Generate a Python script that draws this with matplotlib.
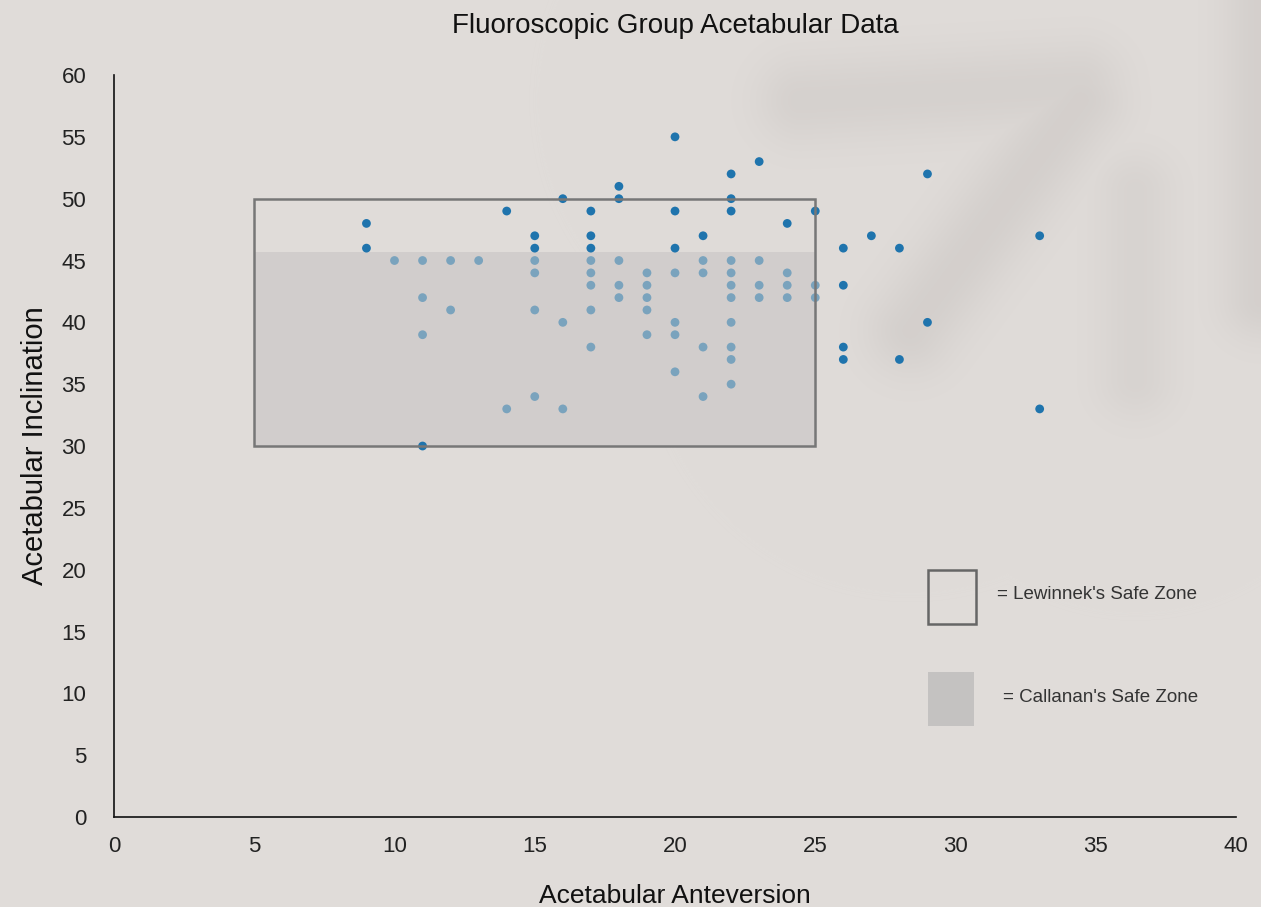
import numpy as np
import matplotlib.pyplot as plt
from matplotlib.patches import Rectangle

# anteversion (x) and inclination (y) of each hip
anteversion = [9, 9,
               10,
               11, 11, 11, 11,
               12, 12,
               13,
               14, 14,
               15, 15, 15, 15, 15, 15,
               16, 16, 16,
               17, 17, 17, 17, 17, 17, 17, 17,
               18, 18, 18, 18, 18,
               19, 19, 19, 19, 19,
               20, 20, 20, 20, 20, 20, 20,
               21, 21, 21, 21, 21,
               22, 22, 22, 22, 22, 22, 22, 22, 22, 22, 22,
               23, 23, 23, 23,
               24, 24, 24, 24,
               25, 25, 25,
               26, 26, 26, 26,
               27,
               28, 28,
               29, 29,
               33, 33]
inclination = [48, 46,
               45,
               45, 42, 39, 30,
               45, 41,
               45,
               49, 33,
               47, 46, 45, 44, 41, 34,
               50, 40, 33,
               49, 47, 46, 45, 44, 43, 41, 38,
               51, 50, 45, 43, 42,
               44, 43, 42, 41, 39,
               55, 49, 46, 44, 40, 39, 36,
               47, 45, 44, 38, 34,
               52, 50, 49, 45, 44, 43, 42, 40, 38, 37, 35,
               53, 45, 43, 42,
               48, 44, 43, 42,
               49, 43, 42,
               46, 43, 38, 37,
               47,
               46, 37,
               52, 40,
               47, 33]

lewinnek = (5, 25, 30, 50)     # x0, x1, y0, y1
callanan = (5, 25, 30, 45.7)

bg = '#e0dcd9'
plt.rcParams['font.family'] = ['Liberation Sans', 'DejaVu Sans']

W, H = 1261, 907
fig = plt.figure(figsize=(W / 100, H / 100), dpi=100, facecolor=bg)

# soft leaf shadow in the top right corner of the background
def seg_dist(px, py, x0, y0, x1, y1):
    dx, dy = x1 - x0, y1 - y0
    t = np.clip(((px - x0) * dx + (py - y0) * dy) / (dx * dx + dy * dy), 0, 1)
    return np.hypot(px - (x0 + t * dx), py - (y0 + t * dy))

yy, xx = np.mgrid[0:H, 0:W]
shade = np.zeros((H, W))
for (x0, y0, x1, y1, w, a) in [(800, 100, 1080, 85, 45, 0.35),
                               (1080, 100, 910, 330, 45, 0.4),
                               (1135, 190, 1135, 380, 40, 0.28),
                               (1261, 0, 1261, 300, 40, 0.4)]:
    shade = np.maximum(shade, a * np.exp(-(seg_dist(xx, yy, x0, y0, x1, y1) / w) ** 2))
base = np.array([0xe0, 0xdc, 0xd9]) / 255
dark = np.array([0xc2, 0xbd, 0xba]) / 255
img = base * (1 - shade[..., None]) + dark * shade[..., None]
bax = fig.add_axes([0, 0, 1, 1], zorder=-1)
bax.imshow(img, extent=(0, W, H, 0), aspect='auto')
bax.axis('off')

ax = fig.add_axes([0.0904, 0.0992, 0.8898, 0.8181])
ax.patch.set_alpha(0)

# Callanan zone (shaded) and Lewinnek zone (outline)
ax.add_patch(Rectangle((callanan[0], callanan[2]), callanan[1] - callanan[0], callanan[3] - callanan[2],
                       facecolor='#d1cdcc', edgecolor='none', zorder=1))
ax.add_patch(Rectangle((lewinnek[0], lewinnek[2]), lewinnek[1] - lewinnek[0], lewinnek[3] - lewinnek[2],
                       facecolor='none', edgecolor='#777777', lw=1.8, zorder=4))

cols = []
for x, y in zip(anteversion, inclination):
    inside = callanan[0] < x <= callanan[1] and callanan[2] < y <= callanan[3]
    cols.append('#7aa3bd' if inside else '#1f74ad')
ax.scatter(anteversion, inclination, s=40, c=cols, edgecolors='none', zorder=3)

ax.set_xlim(0, 40)
ax.set_ylim(0, 60)
ax.set_xticks(range(0, 41, 5))
ax.set_yticks(range(0, 61, 5))
ax.tick_params(axis='both', length=0, labelsize=16, colors='#222222')
ax.tick_params(axis='x', pad=14)
ax.tick_params(axis='y', pad=20)
for s in ['top', 'right']:
    ax.spines[s].set_visible(False)
for s in ['left', 'bottom']:
    ax.spines[s].set_color('#111111')
    ax.spines[s].set_linewidth(1.2)

ax.set_title('Fluoroscopic Group Acetabular Data', fontsize=20, pad=30, color='#111111')
ax.set_xlabel('Acetabular Anteversion', fontsize=19, labelpad=19, color='#111111')
ax.set_ylabel('Acetabular Inclination', fontsize=21, labelpad=9, color='#111111')

# legend drawn by hand
ax.add_patch(Rectangle((0.7255, 0.260), 0.0428, 0.0728, transform=ax.transAxes,
                       facecolor='none', edgecolor='#666666', lw=1.8))
ax.add_patch(Rectangle((0.7255, 0.1226), 0.041, 0.0728, transform=ax.transAxes,
                       facecolor='#c4c2c1', edgecolor='none'))
ax.text(0.787, 0.3005, "= Lewinnek's Safe Zone", transform=ax.transAxes, fontsize=13.5,
        va='center', color='#333333')
ax.text(0.792, 0.1617, "= Callanan's Safe Zone", transform=ax.transAxes, fontsize=13.5,
        va='center', color='#333333')

fig.savefig('out.png', dpi=100, facecolor=bg)
